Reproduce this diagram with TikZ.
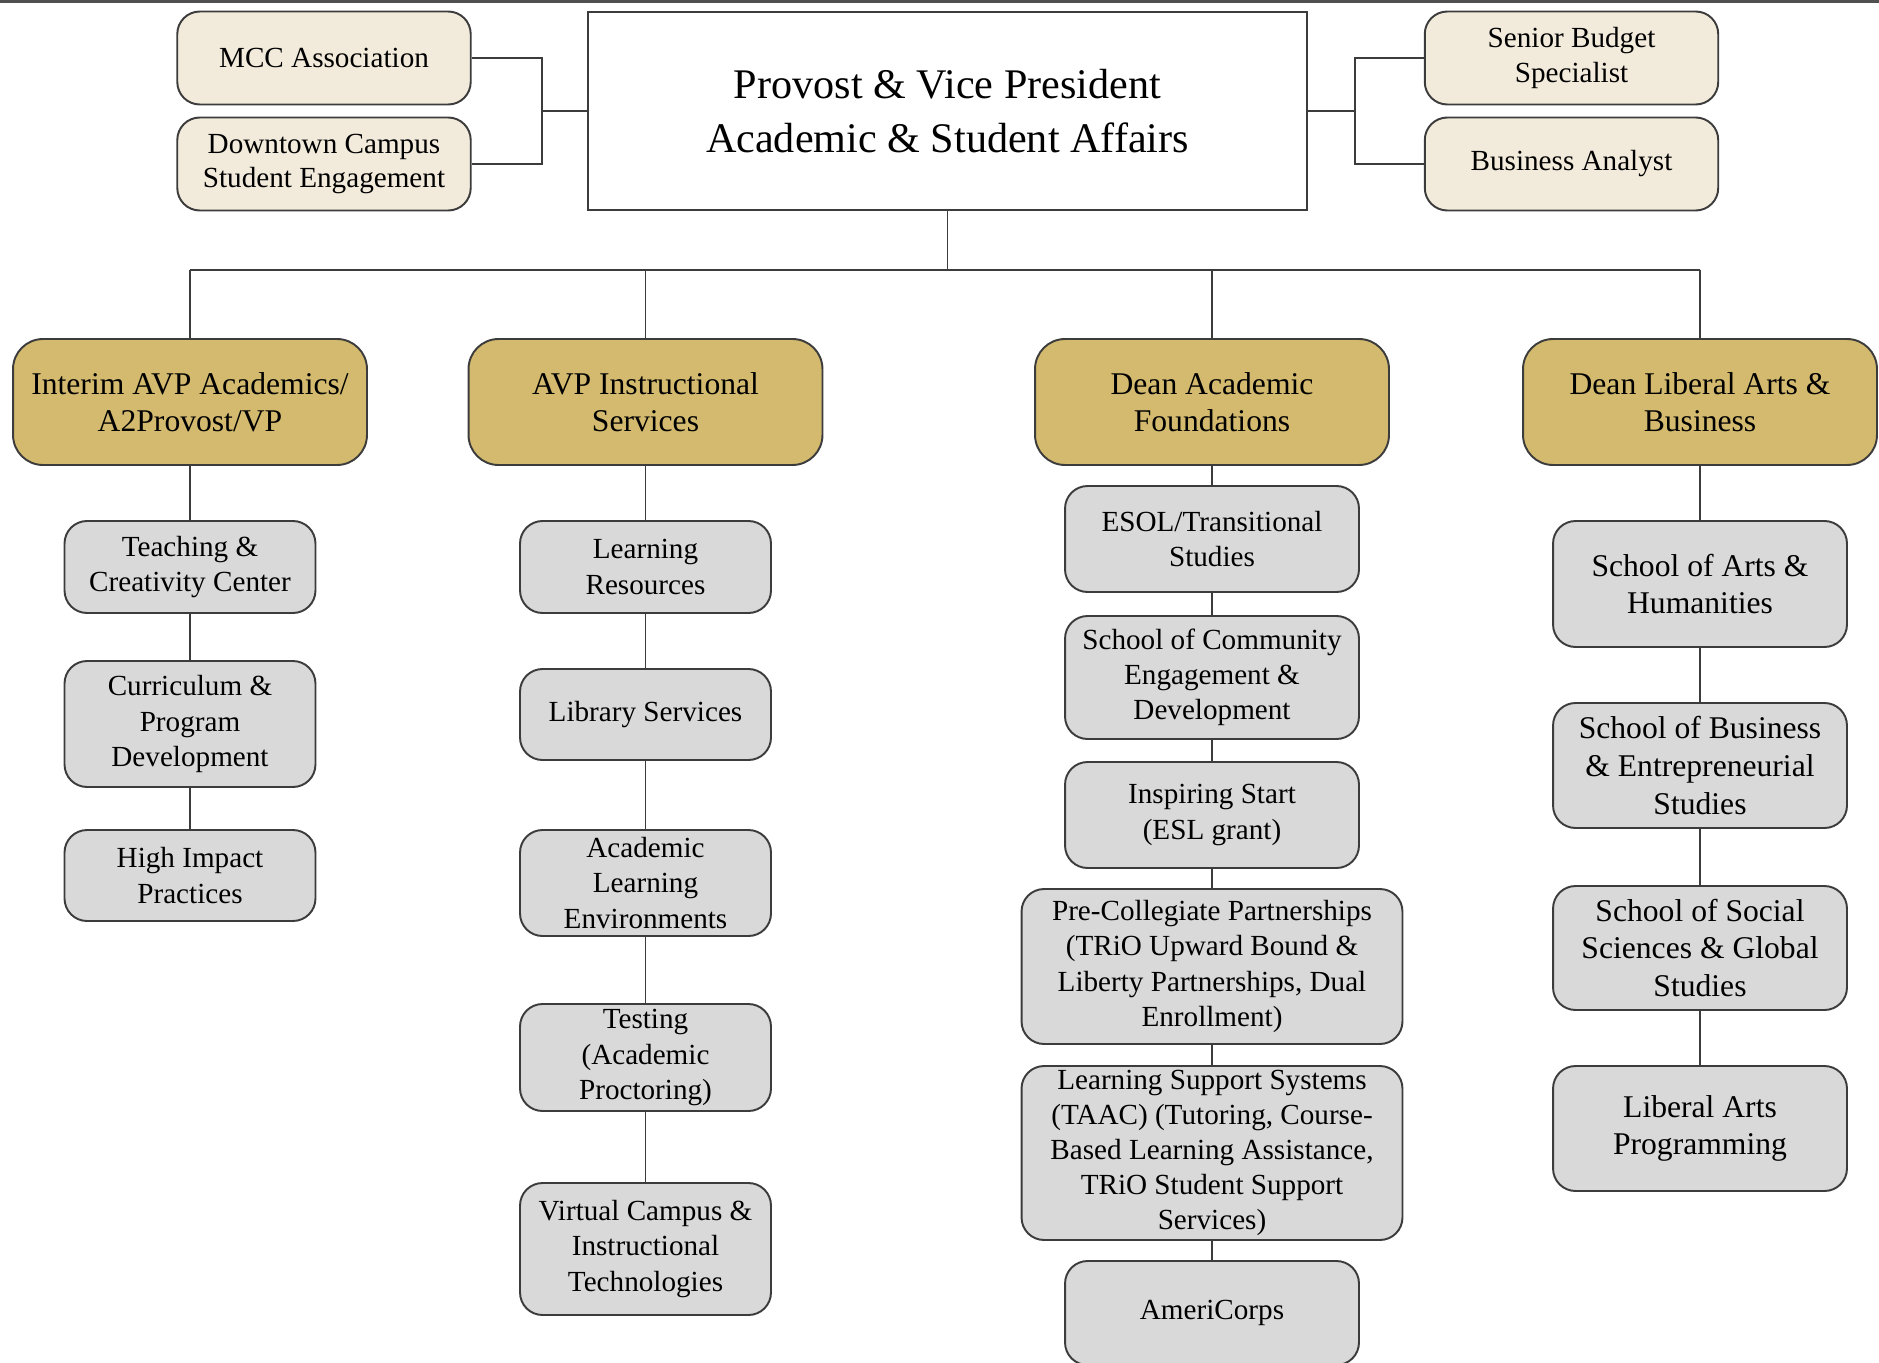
\documentclass[tikz,border=0pt]{standalone}
\usepackage{fontspec}
\setmainfont{Liberation Serif}
\usetikzlibrary{positioning}

\definecolor{edgegray}{HTML}{3C3C3C}
\definecolor{creamfill}{HTML}{F2EBDB}
\definecolor{goldfill}{HTML}{D3BA6E}
\definecolor{unitfill}{HTML}{D9D9D9}

\tikzset{
  orgbox/.style={draw=edgegray, line width=1.1pt, align=center, inner sep=0pt},
  topbox/.style={orgbox, fill=white, font=\fontsize{24}{30.7}\selectfont},
  sidebox/.style={orgbox, fill=creamfill, rounded corners=0.45cm,
    minimum width=5.87cm, minimum height=1.86cm, font=\fontsize{16.6}{19.5}\selectfont},
  goldbox/.style={orgbox, fill=goldfill, rounded corners=0.6cm,
    minimum width=7.08cm, minimum height=2.52cm, font=\fontsize{18}{21}\selectfont},
  unitbox/.style={orgbox, fill=unitfill, rounded corners=0.45cm,
    font=\fontsize{16.6}{20}\selectfont},
  link/.style={draw=edgegray, line width=1.1pt}
}

\begin{document}
\begin{tikzpicture}[x=0.02cm, y=-0.02cm]
\useasboundingbox (0,0) rectangle (1879,1362);

% we draw the border line on top
\draw[edgegray!90, line width=1.8pt] (0,1.5) -- (1879,1.5);

% the provost and the side offices
\node[topbox, minimum width=14.38cm, minimum height=3.96cm] (provost) at (947.5,111)
  {Provost \& Vice President\\Academic \& Student Affairs};
\node[sidebox] (mcc) at (324,58) {MCC Association};
\node[sidebox] (downtown) at (324,164) {Downtown Campus\\Student Engagement};
\node[sidebox] (budget) at (1571.5,58) {Senior Budget\\Specialist};
\node[sidebox] (analyst) at (1571.5,164) {Business Analyst};

\coordinate (lhub) at (542,111);
\coordinate (rhub) at (1355,111);
\coordinate (bus) at (947.5,270);

% the four heads
\node[goldbox] (avpacad) at (190,402) {Interim AVP Academics/\\A2Provost/VP};
\node[goldbox] (avpinstr) at (645.5,402) {AVP Instructional\\Services};
\node[goldbox] (deanaf) at (1212,402) {Dean Academic\\Foundations};
\node[goldbox] (deanlab) at (1700,402) {Dean Liberal Arts \&\\Business};

% first column
\node[unitbox, minimum width=5.02cm, minimum height=1.84cm] (teach) at (190,567)
  {Teaching \&\\Creativity Center};
\node[unitbox, minimum width=5.02cm, minimum height=2.52cm] (curric) at (190,724)
  {Curriculum \&\\Program\\Development};
\node[unitbox, minimum width=5.02cm, minimum height=1.82cm] (impact) at (190,875.5)
  {High Impact\\Practices};

% second column
\node[unitbox, minimum width=5.02cm, minimum height=1.84cm] (lres) at (645.5,567)
  {Learning\\Resources};
\node[unitbox, minimum width=5.02cm, minimum height=1.82cm] (library) at (645.5,714.5)
  {Library Services};
\node[unitbox, minimum width=5.02cm, minimum height=2.12cm] (ale) at (645.5,883)
  {Academic\\Learning\\Environments};
\node[unitbox, minimum width=5.02cm, minimum height=2.14cm] (testing) at (645.5,1057.5)
  {Testing\\(Academic\\Proctoring)};
\node[unitbox, minimum width=5.02cm, minimum height=2.64cm] (virtual) at (645.5,1249)
  {Virtual Campus \&\\Instructional\\Technologies};

% third column
\node[unitbox, minimum width=5.88cm, minimum height=2.12cm] (esol) at (1212,539)
  {ESOL/Transitional\\Studies};
\node[unitbox, minimum width=5.88cm, minimum height=2.46cm] (community) at (1212,677.5)
  {School of Community\\Engagement \&\\Development};
\node[unitbox, minimum width=5.88cm, minimum height=2.12cm] (inspiring) at (1212,815)
  {Inspiring Start\\(ESL grant)};
\node[unitbox, minimum width=7.62cm, minimum height=3.1cm] (precoll) at (1212,966.5)
  {Pre-Collegiate Partnerships\\(TRiO Upward Bound \&\\Liberty Partnerships, Dual\\Enrollment)};
\node[unitbox, minimum width=7.62cm, minimum height=3.48cm] (support) at (1212,1153)
  {Learning Support Systems\\(TAAC) (Tutoring, Course-\\Based Learning Assistance,\\TRiO Student Support\\Services)};
\node[unitbox, minimum width=5.88cm, minimum height=2.08cm] (ameri) at (1212,1313)
  {AmeriCorps};

% fourth column
\node[unitbox, font=\fontsize{18}{21.5}\selectfont, minimum width=5.88cm, minimum height=2.52cm]
  (arts) at (1700,584) {School of Arts \&\\Humanities};
\node[unitbox, font=\fontsize{18}{21.5}\selectfont, minimum width=5.88cm, minimum height=2.5cm]
  (business) at (1700,765.5) {School of Business\\\& Entrepreneurial\\Studies};
\node[unitbox, font=\fontsize{18}{21.5}\selectfont, minimum width=5.88cm, minimum height=2.48cm]
  (social) at (1700,948) {School of Social\\Sciences \& Global\\Studies};
\node[unitbox, font=\fontsize{18}{21.5}\selectfont, minimum width=5.88cm, minimum height=2.5cm]
  (liberal) at (1700,1128.5) {Liberal Arts\\Programming};

% side links
\draw[link] (provost.west) -- (lhub);
\draw[link] (mcc.east) -| (lhub) |- (downtown.east);
\draw[link] (provost.east) -- (rhub);
\draw[link] (budget.west) -| (rhub) |- (analyst.west);

% the bus down to the heads
\draw[link] (provost.south) -- (bus);
\draw[link] (avpacad.north |- bus) -- (deanlab.north |- bus);
\foreach \h in {avpacad,avpinstr,deanaf,deanlab}
  \draw[link] (\h.north) -- (\h.north |- bus);

% the columns
\draw[link] (avpacad) -- (teach) -- (curric) -- (impact);
\draw[link] (avpinstr) -- (lres) -- (library) -- (ale) -- (testing) -- (virtual);
\draw[link] (deanaf) -- (esol) -- (community) -- (inspiring) -- (precoll) -- (support) -- (ameri);
\draw[link] (deanlab) -- (arts) -- (business) -- (social) -- (liberal);

\end{tikzpicture}
\end{document}
